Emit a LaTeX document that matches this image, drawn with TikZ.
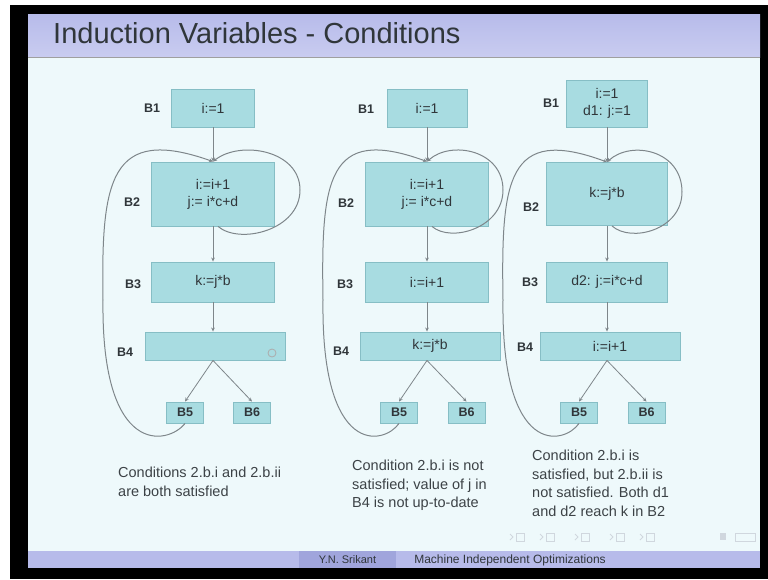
\documentclass[tikz,border=0pt]{standalone}
\usepackage{fontspec}
\setmainfont{Liberation Sans}
\usetikzlibrary{arrows.meta,calc}

\definecolor{slidebg}{HTML}{EEF9FB}
\definecolor{barlav}{HTML}{B7BBEA}
\definecolor{barlavtop}{HTML}{C9CCF0}
\definecolor{namebox}{HTML}{A0A5DC}
\definecolor{boxfill}{HTML}{A8DCE1}
\definecolor{boxline}{HTML}{86BEC5}
\definecolor{edgegray}{HTML}{7E868A}
\definecolor{inktext}{HTML}{30363A}
\definecolor{notetext}{HTML}{3C4246}
\definecolor{navgray}{HTML}{D0D7DE}

\tikzset{
  blk/.style={draw=boxline, fill=boxfill, line width=0.9pt, inner sep=0pt,
    align=center, text=inktext, font=\fontsize{14}{17}\selectfont},
  smallblk/.style={blk, minimum width=37pt, minimum height=21pt,
    font=\bfseries\fontsize{12.5}{14}\selectfont},
  lbl/.style={text=inktext, inner sep=0pt, font=\bfseries\fontsize{12.5}{14}\selectfont},
  edge/.style={draw=edgegray, line width=0.8pt, -{Stealth[length=4pt,width=3.6pt]}},
  loopedge/.style={edge, line width=1pt},
  note/.style={text=notetext, inner sep=0pt, align=left, anchor=north west,
    font=\fontsize{14.5}{18.5}\selectfont},
}

\begin{document}
\begin{tikzpicture}[x=1pt,y=-1pt]
\useasboundingbox (0,0) rectangle (768,579);
% frame and slide background
\fill[white] (0,0) rectangle (768,579);
\fill[black] (10,5) rectangle (768,579);
\fill[slidebg] (28,14) rectangle (760,568);
% title bar with a soft vertical gradient
\shade[top color=barlav, bottom color=barlavtop] (28,14) rectangle (760,57);
\draw[gray!75, line width=1.6pt] (28,57.5) -- (760,57.5);
\node[anchor=base west, inner sep=0pt, text=inktext,
      font=\fontsize{29}{33}\selectfont] (title) at (53,43) {Induction Variables - Conditions};
% footer bar
\fill[barlav] (28,551) rectangle (760,568);
\fill[namebox] (299,551) rectangle (396,568);
\node[text=inktext, inner sep=0pt, font=\fontsize{11}{12}\selectfont] (author) at (347.5,560) {Y.N. Srikant};
\node[text=inktext, inner sep=0pt, font=\fontsize{12}{13}\selectfont] (talk) at (510,560) {Machine Independent Optimizations};
% navigation symbols
\begin{scope}[navgray, line width=0.8pt]
  \foreach \nx in {510,540,575,610,640} {
    \draw (\nx,534) -- (\nx+3,537) -- (\nx,540);
    \draw (\nx+6,533) rectangle (\nx+14,541);
  }
  \fill (720,533) rectangle (726,540);
  \draw (735,533) rectangle (755,541);
\end{scope}

% ---------------- first flow graph ----------------
\begin{scope}[xshift=213pt]
  \node[blk, minimum width=83pt, minimum height=38pt] (a1) at (0,108) {i:=1};
  \node[blk, minimum width=123pt, minimum height=64pt] (a2) at (0,194) {i:=i+1\\j:= i*c+d};
  \node[blk, minimum width=123pt, minimum height=40pt] (a3) at (0,282) {k:=j*b};
  \node[blk, minimum width=140pt, minimum height=28pt] (a4) at (2.5,346) {};
  \node[smallblk] (a5) at (-28,412.5) {B5};
  \node[smallblk] (a6) at (39,412.5) {B6};
  \draw[gray!65, line width=0.8pt] (59,353) circle (4pt);
  \node[lbl] (la1) at (-61,108) {B1};
  \node[lbl] (la2) at (-81,202) {B2};
  \node[lbl] (la3) at (-80,284) {B3};
  \node[lbl] (la4) at (-88,352) {B4};
  \draw[edge] (a1) -- (a2);
  \draw[edge] (a2) -- (a3);
  \draw[edge] (a3.south) -- (a3.south |- a4.north);
  \draw[edge] (a3.south |- a4.south) -- (a5.north);
  \draw[edge] (a3.south |- a4.south) -- (a6.north);
  \draw[loopedge] ($(a2.south)+(5,0)$) .. controls (27,245) and (87,230) .. (87,190)
                  .. controls (87,150) and (27,140) .. (a2.north);
  \draw[loopedge] (a5.south) .. controls (-45,445) and (-112,458) .. (-110,300)
                  .. controls (-112,180) and (-103,125) .. (a2.north);
\end{scope}
\node[note] (n1) at (118,467) {Conditions 2.b.i and 2.b.ii\\are both satisfied};

% ---------------- second flow graph ----------------
\begin{scope}[xshift=427pt]
  \node[blk, minimum width=80pt, minimum height=38pt] (b1) at (0,108) {i:=1};
  \node[blk, minimum width=123pt, minimum height=64pt] (b2) at (0,194) {i:=i+1\\j:= i*c+d};
  \node[blk, minimum width=123pt, minimum height=40pt] (b3) at (0,282) {i:=i+1};
  \node[blk, minimum width=140pt, minimum height=28pt] (b4) at (3,346) {k:=j*b};
  \node[smallblk] (b5) at (-28,412.5) {B5};
  \node[smallblk] (b6) at (39.5,412.5) {B6};
  \node[lbl] (lb1) at (-61,109) {B1};
  \node[lbl] (lb2) at (-81,203) {B2};
  \node[lbl] (lb3) at (-82,284) {B3};
  \node[lbl] (lb4) at (-86,351) {B4};
  \draw[edge] (b1) -- (b2);
  \draw[edge] (b2) -- (b3);
  \draw[edge] (b3.south) -- (b3.south |- b4.north);
  \draw[edge] (b3.south |- b4.south) -- (b5.north);
  \draw[edge] (b3.south |- b4.south) -- (b6.north);
  \draw[loopedge] ($(b2.south)+(5,0)$) .. controls (24,243) and (76,228) .. (76,190)
                  .. controls (76,150) and (24,140) .. (b2.north);
  \draw[loopedge] (b5.south) .. controls (-43,445) and (-106,458) .. (-104,300)
                  .. controls (-106,180) and (-100,125) .. (b2.north);
\end{scope}
\node[note] (n2) at (352,460) {Condition 2.b.i is not\\satisfied; value of j in\\B4 is not up-to-date};

% ---------------- third flow graph ----------------
\begin{scope}[xshift=607pt]
  \node[blk, minimum width=81pt, minimum height=47pt] (c1) at (0,103.5) {i:=1\\d1: j:=1};
  \node[blk, minimum width=121pt, minimum height=63pt] (c2) at (0,194) {k:=j*b};
  \node[blk, minimum width=121pt, minimum height=40pt] (c3) at (0,282) {d2: j:=i*c+d};
  \node[blk, minimum width=140pt, minimum height=28pt] (c4) at (3,346) {i:=i+1};
  \node[smallblk] (c5) at (-28,412.5) {B5};
  \node[smallblk] (c6) at (39.5,412.5) {B6};
  \node[lbl] (lc1) at (-56,103) {B1};
  \node[lbl] (lc2) at (-76,207) {B2};
  \node[lbl] (lc3) at (-77,282) {B3};
  \node[lbl] (lc4) at (-82,347) {B4};
  \draw[edge] (c1) -- (c2);
  \draw[edge] (c2) -- (c3);
  \draw[edge] (c3.south) -- (c3.south |- c4.north);
  \draw[edge] (c3.south |- c4.south) -- (c5.north);
  \draw[edge] (c3.south |- c4.south) -- (c6.north);
  \draw[loopedge] ($(c2.south)+(5,0)$) .. controls (24,243) and (75,230) .. (75,192)
                  .. controls (75,150) and (24,140) .. (c2.north);
  \draw[loopedge] (c5.south) .. controls (-43,445) and (-106,458) .. (-104,300)
                  .. controls (-106,180) and (-100,125) .. (c2.north);
\end{scope}
\node[note] (n3) at (532,450) {Condition 2.b.i is\\satisfied, but 2.b.ii is\\not satisfied. Both d1\\and d2 reach k in B2};
\end{tikzpicture}
\end{document}
